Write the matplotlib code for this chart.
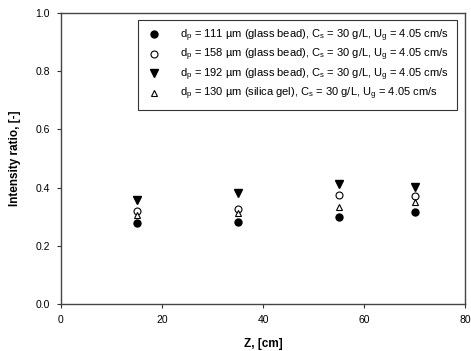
import matplotlib
matplotlib.use('Agg')
from matplotlib import pyplot as plt

plt.rcParams['font.family'] = ['Liberation Sans', 'DejaVu Sans']
plt.rcParams['mathtext.fontset'] = 'custom'
plt.rcParams['mathtext.rm'] = 'Liberation Sans'
plt.rcParams['mathtext.it'] = 'Liberation Sans'
plt.rcParams['mathtext.default'] = 'regular'

z = [15, 35, 55, 70]
gb111 = [0.279, 0.283, 0.300, 0.316]
gb158 = [0.319, 0.326, 0.376, 0.371]
gb192 = [0.357, 0.380, 0.411, 0.403]
sg130 = [0.305, 0.311, 0.334, 0.352]

labels = [
    r'd$_p$ = 111 µm (glass bead), C$_s$ = 30 g/L, U$_g$ = 4.05 cm/s',
    r'd$_p$ = 158 µm (glass bead), C$_s$ = 30 g/L, U$_g$ = 4.05 cm/s',
    r'd$_p$ = 192 µm (glass bead), C$_s$ = 30 g/L, U$_g$ = 4.05 cm/s',
    r'd$_p$ = 130 µm (silica gel), C$_s$ = 30 g/L, U$_g$ = 4.05 cm/s',
]

fig = plt.figure(figsize=(4.71, 3.51), dpi=100)
ax = fig.add_axes([0.1295, 0.134, 0.858, 0.829])

ax.plot(z, gb111, 'o', ms=5, mfc='black', mec='black', ls='none', label=labels[0])
ax.plot(z, gb158, 'o', ms=5, mfc='white', mec='black', mew=0.8, ls='none', label=labels[1])
ax.plot(z, gb192, 'v', ms=5.5, mfc='black', mec='black', ls='none', label=labels[2])
ax.plot(z, sg130, '^', ms=5, mfc='white', mec='black', mew=0.8, ls='none', label=labels[3])

ax.set_xlim(0, 80)
ax.set_ylim(0, 1.0)
ax.set_xticks([0, 20, 40, 60, 80])
ax.set_yticks([0.0, 0.2, 0.4, 0.6, 0.8, 1.0])
ax.yaxis.set_major_formatter(matplotlib.ticker.FormatStrFormatter('%.1f'))
ax.tick_params(direction='out', length=3, width=0.8, labelsize=7.5, colors='#333333',
               labelcolor='black', top=False, right=False, pad=5)
for s in ax.spines.values():
    s.set_color('#444444')
    s.set_linewidth(1.0)

ax.set_xlabel('Z, [cm]', fontsize=8.5, fontweight='bold', labelpad=9)
ax.set_ylabel('Intensity ratio, [-]', fontsize=8.5, fontweight='bold', labelpad=10)

leg = ax.legend(loc='upper right', fontsize=8, frameon=True, fancybox=False,
                edgecolor='black', borderpad=0.7, labelspacing=0.28, handletextpad=1.6,
                handlelength=1.5, borderaxespad=0, bbox_to_anchor=(0.98, 0.977))
leg.get_frame().set_linewidth(0.8)

plt.savefig('out.png', dpi=100)
